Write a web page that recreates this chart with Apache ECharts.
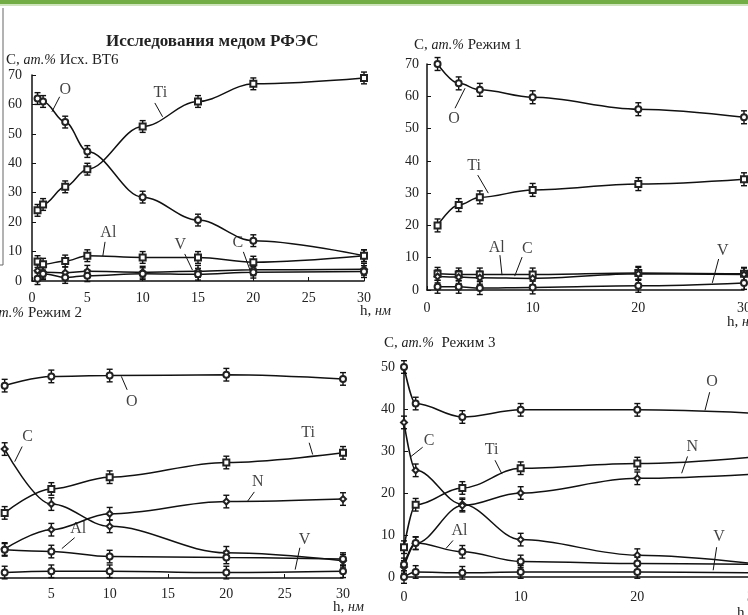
<!DOCTYPE html>
<html>
<head>
<meta charset="utf-8">
<script src="https://cdn.jsdelivr.net/npm/echarts@6/dist/echarts.min.js"></script>
<style>
html,body{margin:0;padding:0;background:#fff;}
#main{width:748px;height:615px;}
</style>
</head>
<body>
<div id="main"></div>
<script>
// Исх. ВТ6
var x1 = [0.5, 1, 3, 5, 10, 15, 20, 30];
var ti1 = [24, 26, 32, 38, 52.5, 61, 67, 69];
var o1 = [62, 61, 54, 44, 28.5, 20.7, 13.7, 8.6];
var al1 = [6.6, 5.7, 6.8, 8.6, 8, 8, 6.4, 8.6];
var c1 = [3.5, 3, 2.8, 3.3, 3, 3.3, 3.8, 4];
var v1 = [0.8, 2.5, 1.2, 1.8, 2.5, 2.3, 3, 3.2];
// Режим 1
var x2 = [1, 3, 5, 10, 20, 30];
var o2 = [70, 64, 62, 59.7, 56, 53.5];
var ti2 = [20, 26.3, 28.7, 31, 32.8, 34.3];
var al2 = [5, 4.8, 4.8, 4.8, 5.3, 5];
var c2 = [4.2, 4, 3.8, 3.6, 5, 4.8];
var v2 = [1, 1, 0.6, 0.8, 1.3, 2.2];
// Режим 2
var x3 = [1, 5, 10, 20, 30];
var o3 = [45.8, 48, 48.2, 48.4, 47.4];
var c3 = [30.7, 17.6, 12.3, 6, 4.1];
var ti3 = [15.5, 21.2, 24, 27.5, 29.8];
var n3 = [6.9, 11.5, 15.3, 18.2, 18.8];
var al3 = [6.7, 6.3, 5.1, 4.9, 4.5];
var v3 = [1.3, 1.6, 1.6, 1.3, 1.6];
// Режим 3
var x4 = [0, 1, 5, 10, 20, 30];
var o4 = [50, 41.3, 38.1, 39.8, 39.8, 39];
var c4 = [36.8, 25.4, 17.3, 8.9, 5.2, 3.2];
var ti4 = [7.1, 17.2, 21.2, 25.9, 27, 28.6];
var n4 = [2.4, 8, 17, 20, 23.5, 24.5];
var al4 = [3, 8.1, 6, 3.7, 3.2, 3];
var v4 = [0, 1.2, 1, 1.2, 1.2, 1];
// погрешность
var err = [2, 2, 1.5, 1.5];
// подписи кривых: текст, x, y, линия x1,y1 -> x2,y2
var notes1 = [['O', 3.0, 65, 2.5, 62.6, 1.8, 57.5], ['Ti', 11.6, 64, 11.1, 60.5, 11.8, 55.8],
  ['Al', 6.9, 16.3, 6.6, 13.3, 6.4, 8.5], ['V', 13.4, 12.2, 13.8, 9.2, 14.5, 3.7], ['C', 18.6, 12.9, 19.1, 9.9, 19.7, 3.7]];
var notes2 = [['O', 2.56, 53, 2.65, 56.3, 3.6, 62.5], ['Ti', 4.45, 38.4, 4.8, 35.6, 5.8, 30],
  ['Al', 6.6, 13, 6.9, 10.8, 7.1, 4.6], ['C', 9.5, 12.7, 9, 10.2, 8.3, 4.3], ['V', 28, 12, 27.6, 9.6, 27, 2.2]];
var notes3 = [['O', 11.9, 42, 11.5, 44.8, 11, 48], ['C', 2.97, 33.7, 2.5, 31.3, 1.86, 27.7],
  ['Ti', 27, 34.6, 27.1, 32.2, 27.4, 29.4], ['N', 22.7, 22.9, 22.4, 20.5, 21.8, 18.2],
  ['Al', 7.3, 11.7, 7, 9.6, 5.9, 7], ['V', 26.7, 9.1, 26.3, 7.2, 25.9, 2]];
var notes4 = [['O', 26.4, 46.4, 26.2, 44, 25.8, 39.7], ['C', 2.16, 32.5, 1.6, 30.9, 0.6, 28.7],
  ['Ti', 7.5, 30.2, 7.8, 27.8, 8.4, 24.5], ['N', 24.7, 30.9, 24.3, 28.7, 23.8, 24.7],
  ['Al', 4.75, 11.1, 4.2, 8.7, 3.6, 6.8], ['V', 27, 9.5, 26.8, 7.1, 26.5, 1.6]];

var font = 'Liberation Serif';
var myChart = echarts.init(document.getElementById('main'));

function zip(xs, ys, e) {
    return xs.map(function (x, i) { return e === undefined ? [x, ys[i]] : [x, ys[i], e]; });
}
function curve(g, xs, ys, sym) {// кривая с маркерами
    return {
        type: 'line', xAxisIndex: g, yAxisIndex: g, data: zip(xs, ys),
        smooth: 0.35, smoothMonotone: 'x', symbol: sym, symbolSize: 6, showSymbol: true,
        lineStyle: {color: '#111', width: 1.5}, itemStyle: {color: '#222', borderWidth: 1.2},
        z: 5
    };
}
function bars(g, xs, ys) {// усы погрешности
    return {
        type: 'custom', xAxisIndex: g, yAxisIndex: g, data: zip(xs, ys, err[g]), encode: {x: 0, y: 1}, z: 4,
        renderItem: function (params, api) {
            var x = api.value(0), y = api.value(1), e = api.value(2);
            var a = api.coord([x, y + e]), b = api.coord([x, y - e]);
            var st = {stroke: '#111', lineWidth: 1.4};
            return {type: 'group', children: [
                {type: 'line', shape: {x1: a[0], y1: a[1], x2: b[0], y2: b[1]}, style: st},
                {type: 'line', shape: {x1: a[0] - 3, y1: a[1], x2: a[0] + 3, y2: a[1]}, style: st},
                {type: 'line', shape: {x1: b[0] - 3, y1: b[1], x2: b[0] + 3, y2: b[1]}, style: st}
            ]};
        }
    };
}
function labels(g, notes) {
    return [{
        type: 'scatter', xAxisIndex: g, yAxisIndex: g, symbolSize: 0, z: 6,
        data: notes.map(function (n) { return [n[1], n[2], n[0]]; }),
        label: {show: true, position: 'inside', formatter: function (p) { return p.data[2]; },
            fontFamily: font, fontSize: 16, color: '#111'}
    }, {
        type: 'lines', coordinateSystem: 'cartesian2d', xAxisIndex: g, yAxisIndex: g, z: 6,
        data: notes.map(function (n) { return {coords: [[n[3], n[4]], [n[5], n[6]]]}; }),
        lineStyle: {color: '#111', width: 1, opacity: 1}
    }];
}

var grids = [
    {left: 32, top: 75, width: 332, height: 206, outerBoundsMode: 'none'},
    {left: 427, top: 64, width: 317, height: 226, outerBoundsMode: 'none'},
    {left: -7, top: 368, width: 350, height: 210, outerBoundsMode: 'none'},
    {left: 404, top: 367, width: 350, height: 210, outerBoundsMode: 'none'}
];
var ymax = [70, 70, 50, 50], xint = [5, 10, 5, 10], ylm = [10, 8, 8, 9], xlm = [10, 11, 9, 13];
var xAxes = [], yAxes = [];
for (var i = 0; i < 4; i++) {
    xAxes.push({gridIndex: i, type: 'value', min: 0, max: 30, interval: xint[i],
        axisLine: {lineStyle: {color: '#111', width: 1.5}}, axisTick: {inside: true, length: 4, lineStyle: {color: '#111'}},
        axisLabel: {fontFamily: font, fontSize: 14, color: '#222', margin: xlm[i]}, splitLine: {show: false}});
    yAxes.push({gridIndex: i, type: 'value', min: 0, max: ymax[i], interval: 10,
        axisLine: {show: true, lineStyle: {color: '#111', width: 1.5}}, axisTick: {show: true, inside: true, length: 4, lineStyle: {color: '#111'}},
        axisLabel: {fontFamily: font, fontSize: 14, color: '#222', margin: ylm[i]}, splitLine: {show: false}});
}

var series = [];
function add(g, xs, list) {
    list.forEach(function (s) {
        series.push(bars(g, xs, s[0]));
        series.push(curve(g, xs, s[0], s[1]));
    });
}
add(0, x1, [[ti1, 'emptyRect'], [o1, 'emptyCircle'], [al1, 'emptyRect'], [c1, 'emptyDiamond'], [v1, 'emptyCircle']]);
add(1, x2, [[o2, 'emptyCircle'], [ti2, 'emptyRect'], [al2, 'emptyRect'], [c2, 'emptyDiamond'], [v2, 'emptyCircle']]);
add(2, x3, [[o3, 'emptyCircle'], [c3, 'emptyDiamond'], [ti3, 'emptyRect'], [n3, 'emptyDiamond'], [al3, 'emptyCircle'], [v3, 'emptyCircle']]);
add(3, x4, [[o4, 'emptyCircle'], [c4, 'emptyDiamond'], [ti4, 'emptyRect'], [n4, 'emptyDiamond'], [al4, 'emptyCircle'], [v4, 'emptyCircle']]);
series = series.concat(labels(0, notes1), labels(1, notes2), labels(2, notes3), labels(3, notes4));

var rich = {i: {fontFamily: font, fontStyle: 'italic', fontSize: 14, fill: '#222'}};
function txt(x, y, s, size, bold, align) {
    return {type: 'text', x: x, y: y, style: {text: s, fontFamily: font, fontSize: size || 15,
        fontWeight: bold ? 'bold' : 'normal', fill: '#222', rich: rich, textAlign: align || 'left', textVerticalAlign: 'middle'}};
}

myChart.setOption({
    animation: false,
    backgroundColor: '#fff',
    textStyle: {fontFamily: font},
    grid: grids,
    xAxis: xAxes,
    yAxis: yAxes,
    series: series,
    graphic: [
        {type: 'rect', shape: {x: 0, y: 0, width: 748, height: 4}, style: {fill: '#72ad45'}},
        {type: 'rect', shape: {x: 0, y: 4, width: 748, height: 2}, style: {fill: '#cfe4bd'}},
        {type: 'polyline', shape: {points: [[3, 8], [3, 265], [0, 265]]}, style: {stroke: '#666', lineWidth: 1, fill: null}},
        txt(106, 42, 'Исследования медом РФЭС', 17, true),
        txt(6, 60, 'С, {i|ат.%} Исх. ВТ6'),
        txt(414, 45, 'С, {i|ат.%} Режим 1'),
        txt(24, 313, 'С, {i|ат.%}', 15, false, 'right'),
        txt(28, 313, 'Режим 2'),
        txt(384, 343, 'С, {i|ат.%}  Режим 3'),
        txt(360, 311, 'h, {i|нм}'),
        txt(727, 322, 'h, {i|нм}'),
        txt(333, 607, 'h, {i|нм}'),
        txt(737, 613, 'h, {i|нм}')
    ]
});
</script>
</body>
</html>
